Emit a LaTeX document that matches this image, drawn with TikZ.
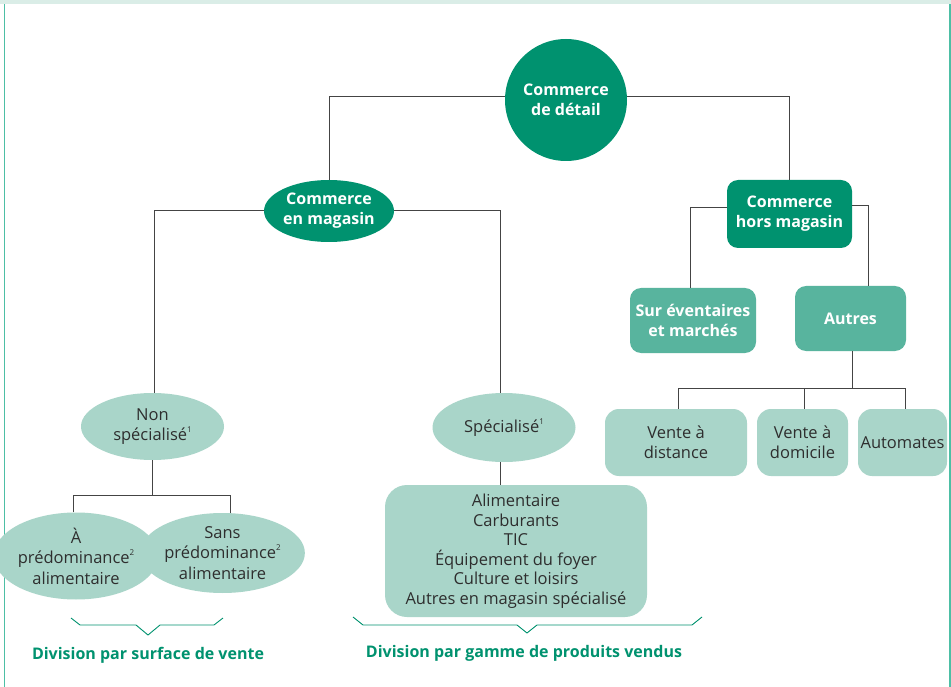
\documentclass[tikz,border=0pt]{standalone}
\usepackage{fontspec}
\setmainfont{Open Sans}
\usetikzlibrary{shapes.geometric}
\definecolor{dgreen}{HTML}{00926F}
\definecolor{mgreen}{HTML}{58B49E}
\definecolor{lgreen}{HTML}{A9D5C9}
\definecolor{band}{HTML}{DAEDE7}
\definecolor{bordr}{HTML}{4DBFA5}
\definecolor{txt}{HTML}{2E2E2E}
\definecolor{lin}{HTML}{444444}
\newcommand{\supnum}[1]{\raisebox{0.9ex}{\fontsize{8}{8}\selectfont #1}}
\tikzset{
  darknode/.style={fill=dgreen,text=white,font=\fontsize{16}{20}\selectfont\bfseries,align=center,inner sep=0pt},
  midbox/.style={fill=mgreen,text=white,font=\fontsize{16}{20}\selectfont\bfseries,align=center,inner sep=0pt,rounded corners=11pt},
  lightell/.style={ellipse,fill=lgreen,text=txt,font=\fontsize{16.5}{20.5}\selectfont,align=center,inner sep=0pt},
  lightbox/.style={fill=lgreen,text=txt,font=\fontsize{16.5}{20.5}\selectfont,align=center,inner sep=0pt,rounded corners=14pt},
  conn/.style={draw=lin,line width=1pt},
  brace/.style={draw=dgreen,line width=0.9pt},
  divlabel/.style={text=dgreen,font=\fontsize{16}{19}\selectfont\bfseries,inner sep=0pt}
}
\begin{document}
\begin{tikzpicture}[x=1pt,y=-1pt]
\useasboundingbox (0,0) rectangle (951,687);
\fill[white] (0,0) rectangle (951,687);
% frame
\fill[band] (0,0) rectangle (951,4.5);
\draw[bordr,line width=1pt] (4,4.5) -- (4,687);
\draw[bordr,line width=2.2pt] (949.9,4.5) -- (949.9,687);

% nodes
\node[darknode,circle,minimum size=122pt] (root) at (566,100) {Commerce\\de détail};
\node[darknode,ellipse,minimum width=130pt,minimum height=62pt] (mag) at (329,211) {Commerce\\en magasin};
\node[darknode,rounded corners=11pt,minimum width=125pt,minimum height=68pt] (hors) at (789.5,214) {Commerce\\hors magasin};
\node[midbox,minimum width=126pt,minimum height=65pt] (sur) at (693,320.5) {Sur éventaires\\et marchés};
\node[midbox,minimum width=111pt,minimum height=65pt] (autres) at (850.5,318.5) {Autres};
\node[lightell,minimum width=143pt,minimum height=67pt] (nonspec) at (152.5,426.5) {Non\\spécialisé\supnum{1}};
\node[lightell,minimum width=143pt,minimum height=69pt] (spec) at (504,427.5) {Spécialisé\supnum{1}};
\node[lightell,minimum width=142pt,minimum height=87pt] (apred) at (76,556) {À\\prédominance\supnum{2}\\alimentaire};
\node[lightell,minimum width=141pt,minimum height=80pt] (sans) at (222.5,553) {Sans\\prédominance\supnum{2}\\alimentaire};
\node[lightbox,rounded corners=22pt,minimum width=262pt,minimum height=132pt,font=\fontsize{16.5}{19.5}\selectfont] (list) at (516,551) {Alimentaire\\Carburants\\TIC\\Équipement du foyer\\Culture et loisirs\\Autres en magasin spécialisé};
\node[lightbox,minimum width=142pt,minimum height=67pt] (dist) at (676,442.5) {Vente à\\distance};
\node[lightbox,minimum width=91pt,minimum height=67pt] (dom) at (802.5,442.5) {Vente à\\domicile};
\node[lightbox,minimum width=89pt,minimum height=67pt] (auto) at (902.5,442.5) {Automates};

% connectors
\draw[conn] ([yshift=3pt]root.west) -| (mag.north);
\draw[conn] ([yshift=3pt]root.east) -| (hors.north);
\draw[conn] (mag.west) -| ([xshift=2pt]nonspec.north);
\draw[conn] (mag.east) -| ([xshift=-4pt]spec.north);
\draw[conn] ([yshift=6pt]hors.west) -| ([xshift=-3pt]sur.north);
\draw[conn] ([yshift=8pt]hors.east) -| ([xshift=17.5pt]autres.north);
\coordinate (barA) at (0,388);
\draw[conn] ([xshift=1.5pt]autres.south) -- ([xshift=1.5pt]autres.south |- barA);
\draw[conn] ([xshift=2pt]dist.north) -- ([xshift=2pt]dist.north |- barA) -- ([xshift=2.5pt]auto.north |- barA) -- ([xshift=2.5pt]auto.north);
\draw[conn] ([xshift=1.5pt]dom.north) -- ([xshift=1.5pt]dom.north |- barA);
\coordinate (barB) at (0,495);
\draw[conn] (nonspec.south) -- (nonspec.south |- barB);
\draw[conn] ([xshift=-3pt]apred.north) -- ([xshift=-3pt]apred.north |- barB) -- ([xshift=7.5pt]sans.north |- barB) -- ([xshift=7.5pt]sans.north);
\draw[conn] ([xshift=-4pt]spec.south) -- ([xshift=-4pt]spec.south |- list.north);

% braces
\coordinate (b1l) at (71,618);
\coordinate (b1r) at (223,618);
\coordinate (b1t) at (148,635);
\draw[brace] (b1l) -- (80,625) -- (136,625) -- (b1t) -- (160,625) -- (214,625) -- (b1r);
\coordinate (b2l) at (353,617);
\coordinate (b2r) at (702,617);
\coordinate (b2t) at (527,633);
\draw[brace] (b2l) -- (363,625) -- (517,625) -- (b2t) -- (537,625) -- (692,625) -- (b2r);

\node[divlabel] (lab1) at (148,655) {Division par surface de vente};
\node[divlabel] (lab2) at (524,653) {Division par gamme de produits vendus};
\end{tikzpicture}
\end{document}
